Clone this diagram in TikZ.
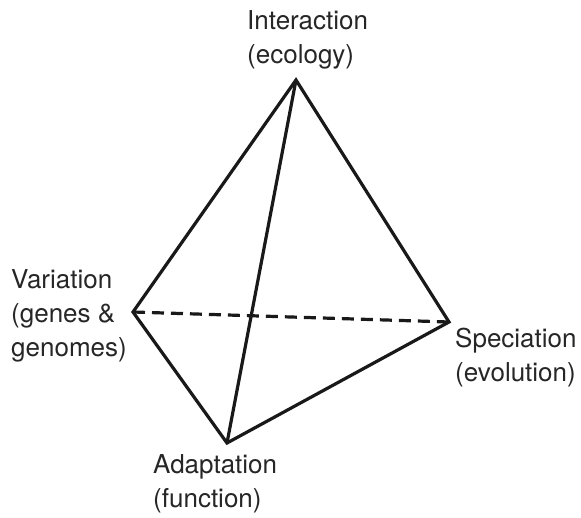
\documentclass[tikz,border=0pt]{standalone}
\usepackage{fontspec}
\setmainfont{TeX Gyre Heros}
\begin{document}
\begin{tikzpicture}[x=1pt,y=-1pt,
  lbl/.style={inner sep=0pt,anchor=base west,align=left,text=black!85,
    font=\fontsize{26}{34}\selectfont},
  edge/.style={line width=3.2pt,line join=miter,black!90},
  hidden/.style={edge,dash pattern=on 12pt off 7pt}]
\useasboundingbox (0,0) rectangle (581,517);
\coordinate (I) at (296,80);
\coordinate (V) at (133,312);
\coordinate (S) at (449,322);
\coordinate (A) at (227,443);
\draw[hidden] (V) -- (S);
\draw[edge] (I) -- (V) -- (A) -- (S) -- cycle;
\draw[edge] (I) -- (A);
\node[lbl] (tI) at (247,63) {Interaction\\(ecology)};
\node[lbl] (tV) at (11,356) {Variation\\(genes \&\\genomes)};
\node[lbl] (tS) at (455,381) {Speciation\\(evolution)};
\node[lbl] (tA) at (153,507) {Adaptation\\(function)};
\end{tikzpicture}
\end{document}
